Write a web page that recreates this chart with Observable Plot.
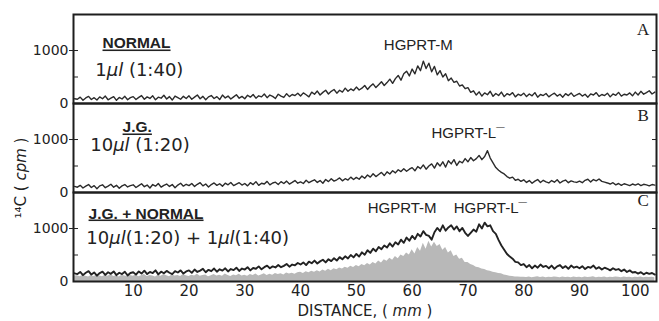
<!DOCTYPE html>
<html><head><meta charset="utf-8">
<script src="https://cdn.jsdelivr.net/npm/d3@7"></script>
<script src="https://cdn.jsdelivr.net/npm/@observablehq/plot@0.6"></script>
<style>body{margin:0;background:#fff} svg{display:block}</style>
</head><body><div id="chart"></div>
<script>
// Sampling grid along the gel (mm)
const distance = d3.range(-0.5, 103.75, 0.5);

// Panel A: NORMAL 1 μl (1:40), cpm
const normalA = [90,
 80,120,60,105,135,75,110,65,125,90,140,70,100,130,60,115,85,135,70,110,
 130,75,115,150,80,125,95,145,70,120,100,155,85,130,65,140,110,80,135,95,
 145,80,120,160,90,135,70,125,150,95,130,75,160,105,140,85,125,165,100,135,
 90,155,120,170,100,145,125,180,110,160,135,95,175,140,115,185,130,170,150,195,
 140,200,165,125,215,175,235,160,210,250,180,230,265,195,250,215,290,230,275,245,
 310,255,290,340,265,325,370,300,355,410,340,395,460,380,470,530,440,560,610,520,
 650,560,710,620,800,660,760,600,700,540,620,500,560,430,480,400,420,330,350,280,
 300,210,240,160,220,140,200,165,230,135,190,150,215,130,185,160,205,125,175,150,
 195,130,180,145,205,120,170,150,190,125,165,195,140,175,120,185,150,200,135,165,
 190,140,175,120,180,160,205,135,170,150,195,125,180,155,210,140,175,160,200,145,
 215,160,230,175,205,240,180,215];

// Panel B: J.G. 10 μl (1:20), cpm
const jgB = [115,
 100,135,85,120,150,95,130,70,125,145,90,120,155,100,135,80,125,150,105,130,
 145,95,130,165,110,140,85,150,120,170,100,135,160,115,150,90,140,175,120,155,
 130,170,115,155,185,125,160,105,150,180,135,165,120,175,145,190,130,160,185,140,
 170,125,185,150,205,135,175,160,210,145,180,195,150,205,170,215,160,190,225,175,
 200,170,230,185,215,240,190,225,175,245,205,260,215,240,275,220,260,235,290,245,
 285,250,310,270,330,290,355,300,340,380,320,390,350,410,370,430,395,450,400,440,
 470,410,490,450,520,440,500,540,460,560,500,580,480,600,540,620,510,590,560,640,
 580,660,600,640,700,620,680,790,650,560,470,420,380,350,300,270,290,230,250,210,
 240,190,225,175,215,245,190,230,200,180,225,195,240,180,215,235,185,220,200,190,
 215,185,230,250,200,245,220,255,210,195,180,160,185,145,170,135,165,150,130,160,
 140,165,130,155,145,125,150,140];

// Panel C: J.G. + NORMAL mixture, cpm
const mixC = [155,
 140,180,120,165,195,130,170,110,160,185,125,175,145,190,120,165,140,185,115,160,
 175,130,190,150,205,140,180,160,210,135,185,155,200,165,140,195,170,210,150,190,
 210,165,225,180,205,240,175,220,195,245,185,230,205,250,190,235,215,260,200,245,
 225,270,210,255,240,285,230,270,300,250,285,265,310,270,295,330,280,320,305,350,
 320,360,310,375,345,395,340,380,410,360,420,385,440,395,460,420,475,435,500,455,
 520,470,550,505,590,540,620,570,650,610,680,640,720,660,740,700,790,730,830,770,
 860,800,900,850,950,880,860,790,930,1010,950,1060,960,1020,1060,980,1040,950,1010,920,
 860,920,980,940,1080,1000,1110,1040,1060,950,900,780,680,600,520,470,430,370,360,310,
 330,270,310,250,300,260,320,275,295,250,300,240,285,310,255,290,240,300,260,280,
 250,290,235,275,260,300,240,270,225,260,240,210,250,220,235,195,225,180,210,170,
 180,150,175,135,165,145,160,130];

// Panel C shaded: NORMAL alone (grey histogram), cpm
const normalShadeC = [105,
 110,90,120,100,85,115,95,125,105,90,120,100,130,95,110,85,120,105,95,115,
 100,125,90,110,130,95,115,105,85,120,100,130,110,90,125,105,115,95,130,110,
 95,120,105,135,100,115,125,90,110,130,105,120,100,140,115,95,125,110,135,105,
 120,100,130,115,140,105,125,145,115,135,120,150,130,145,125,160,140,155,135,165,
 175,150,185,165,195,175,205,180,215,195,230,205,240,220,255,235,270,250,290,265,
 300,280,320,295,340,310,360,330,385,350,410,380,440,400,470,430,500,470,540,500,
 600,520,640,570,720,610,760,650,740,660,700,590,640,540,580,470,500,420,440,360,
 360,320,300,270,260,235,225,205,195,175,165,150,145,125,115,100,95,85,85,80,
 80,75,85,70,80,90,75,85,70,80,75,85,80,70,85,75,80,70,85,75,
 80,70,85,75,80,90,70,80,75,85,70,80,75,85,80,70,85,75,80,70,
 80,75,85,70,80,75,80,70];

const panels = ["A", "B", "C"];
const xTicks = [10, 20, 30, 40, 50, 60, 70, 80, 90, 100];
const yTicks = [0, 1000];
const yMinorTicks = [500, 1000];

const headNotes = [
  {panel: "A", x: 4.5, y: 1132, text: "NORMAL"},
  {panel: "B", x: 8.1, y: 1227, text: "J.G."},
  {panel: "C", x: 2.0, y: 1283, text: "J.G. + NORMAL"}
];
const doseNotes = [
  {panel: "A", x: 3.2, y: 623, text: "1_μl_ (1:40)"},
  {panel: "B", x: 2.3, y: 887, text: "10_μl_ (1:20)"},
  {panel: "C", x: 1.6, y: 812, text: "10_μl_(1:20) + 1_μl_(1:40)"}
];
const peakNotes = [
  {panel: "A", x: 61.1, y: 1095, text: "HGPRT-M"},
  {panel: "B", x: 70.0, y: 1114, text: "HGPRT-L¯"},
  {panel: "C", x: 58.2, y: 1378, text: "HGPRT-M"},
  {panel: "C", x: 74.0, y: 1378, text: "HGPRT-L¯"}
];
const panelLetters = [
  {panel: "A", x: 101.4, y: 1397, text: "A"},
  {panel: "B", x: 101.4, y: 1453, text: "B"},
  {panel: "C", x: 101.4, y: 1529, text: "C"}
];
const xLabel = [{panel: "C", text: "DISTANCE, ( _mm_ )"}];
const yLabelText = "¹⁴C ( _cpm_ )";

const rows = (vals, panel) => vals.map((v, i) => ({x: distance[i], y: v, panel}));

const chart = Plot.plot({
  width: 659, height: 321,
  marginTop: 14, marginBottom: 40, marginLeft: 73, marginRight: 3,
  style: {fontFamily: "DejaVu Sans", fontSize: "14px", color: "#222", background: "#fff"},
  x: {domain: [-0.7, 103.8]},
  y: {domain: [0, 1680]},
  fy: {domain: panels, padding: 0, axis: null},
  marks: [
    Plot.areaY(rows(normalShadeC, "C"), {x: "x", y: "y", fy: "panel", fill: "#b8b8b8"}),
    Plot.line(rows(normalA, "A"), {x: "x", y: "y", fy: "panel", stroke: "#2b2b2b", strokeWidth: 1.4}),
    Plot.line(rows(jgB, "B"), {x: "x", y: "y", fy: "panel", stroke: "#2b2b2b", strokeWidth: 1.4}),
    Plot.line(rows(mixC, "C"), {x: "x", y: "y", fy: "panel", stroke: "#222", strokeWidth: 1.9}),
    Plot.frame({stroke: "#1e1e1e", strokeWidth: 2}),
    Plot.axisY({ticks: yTicks, tickSize: 0, tickPadding: 5, fontSize: 14, tickFormat: d => `${d}`, label: null}),
    Plot.axisY({ticks: [1000], tickSize: 4, tickFormat: () => "", label: null}),
    Plot.axisY({ticks: yMinorTicks, tickSize: 5, dx: 5, tickFormat: () => "", label: null}),
    Plot.axisY({anchor: "right", ticks: yMinorTicks, tickSize: 5, dx: -5, tickFormat: () => "", label: null}),
    Plot.axisX({ticks: xTicks, tickSize: 0, tickPadding: 4, fontSize: 15, label: null}),
    Plot.text(headNotes, {x: "x", y: "y", fy: "panel", text: "text", textAnchor: "start", lineAnchor: "middle",
      fontFamily: "Liberation Sans", fontWeight: "bold", fontSize: 15.5, fill: "#222"}),
    Plot.text(doseNotes, {x: "x", y: "y", fy: "panel", text: "text", textAnchor: "start", lineAnchor: "middle",
      fontFamily: "DejaVu Sans", fontSize: 18, fill: "#222"}),
    Plot.text(peakNotes, {x: "x", y: "y", fy: "panel", text: "text", textAnchor: "middle", lineAnchor: "middle",
      fontFamily: "Liberation Sans", fontSize: 15, fill: "#222"}),
    Plot.text(panelLetters, {x: "x", y: "y", fy: "panel", text: "text", textAnchor: "middle", lineAnchor: "middle",
      fontFamily: "Liberation Serif", fontSize: 17, fill: "#222"}),
    Plot.text(xLabel, {fy: "panel", text: "text", frameAnchor: "bottom", dy: 30, lineAnchor: "middle",
      fontFamily: "DejaVu Sans", fontSize: 15, fill: "#222"})
  ]
});

// Y axis title (rotated), placed in the left margin beside the middle/lower panels
d3.select(chart).append("text")
  .attr("transform", "translate(21,178) rotate(-90)")
  .attr("text-anchor", "middle")
  .attr("dy", "0.32em")
  .attr("font-family", "DejaVu Sans")
  .attr("font-size", 15)
  .attr("fill", "#222")
  .text(yLabelText);

// Rich text: _..._ italic, underline for the sample headings
const underlined = new Set(headNotes.map(d => d.text));
chart.querySelectorAll("text").forEach(t => {
  const s = t.textContent;
  if (underlined.has(s)) t.style.textDecoration = "underline";
  if (s.includes("_")) {
    const parts = s.split("_");
    t.textContent = "";
    parts.forEach((p, i) => {
      if (!p) return;
      const ts = document.createElementNS("http://www.w3.org/2000/svg", "tspan");
      ts.textContent = p;
      if (i % 2) ts.setAttribute("font-style", "italic");
      t.appendChild(ts);
    });
  }
});

document.getElementById("chart").appendChild(chart);
</script>
</body></html>
